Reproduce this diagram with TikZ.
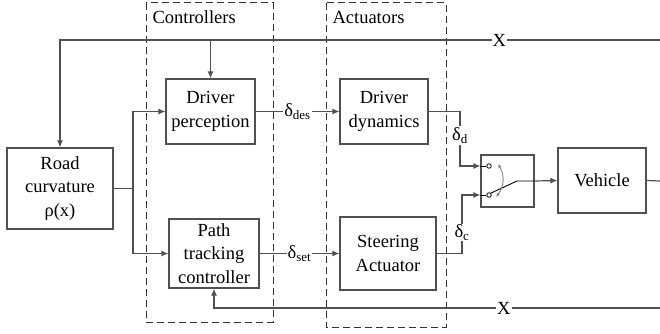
\documentclass[tikz,border=0pt]{standalone}
\usepackage{fontspec}
\setmainfont{Liberation Serif}
\usetikzlibrary{arrows.meta,calc,positioning}
\definecolor{wire}{HTML}{505050}
\tikzset{
        block/.style = {draw=wire, rectangle, line width=1.2pt,
            align=center, inner sep=0pt},
        wire/.style = {draw=wire, line width=1.2pt},
        arrow/.style = {draw=wire, line width=1.2pt, -{Latex[length=7pt,width=6pt]}},
        group/.style = {draw=black!80, line width=1pt, dash pattern=on 7pt off 4pt},
        sig/.style = {fill=white, inner sep=1pt},
        contact/.style = {draw=black, fill=white, circle, line width=0.8pt,
            inner sep=0pt, minimum size=4.5pt},
    }

\begin{document}
\begin{tikzpicture}[x=1pt, y=-1pt, font=\fontsize{18.5}{23.5}\selectfont]
                \useasboundingbox (0,0) rectangle (660,334);

                % groups
                \draw[group] (146,3) rectangle (273,322);
                \draw[group] (326,3) rectangle (446,327);
                \node[anchor=west] (ctrllbl) at (149,17) {Controllers};
                \node[anchor=west] (actlbl) at (329,17) {Actuators};

                % blocks
                \node[block, minimum width=106pt, minimum height=81pt] (road) at (60,188.5) {Road\\curvature\\ρ(x)};
                \node[block, minimum width=89pt, minimum height=65pt] (perc) at (210.5,111.5) {Driver\\perception};
                \node[block, minimum width=90pt, minimum height=69pt] (path) at (214,253.5) {Path\\tracking\\controller};
                \node[block, minimum width=88pt, minimum height=65pt] (dyn) at (384,111.5) {Driver\\dynamics};
                \node[block, minimum width=96pt, minimum height=73pt] (steer) at (388,253.5) {Steering\\Actuator};
                \node[block, minimum width=53pt, minimum height=52pt] (sw) at (507.5,181) {};
                \node[block, minimum width=88pt, minimum height=65pt] (veh) at (602,180.5) {Vehicle};

                % feedback lines
                \coordinate (topR) at (660,40);
                \coordinate (topL) at (60,40);
                \draw[arrow] (topR) -- node[sig, pos=0.268] (xtop) {X} (topL) -- (road.north);
                \draw[arrow] (perc.north |- topL) -- (perc.north);
                \coordinate (botR) at (660,308);
                \draw[arrow] (botR) -- node[sig, pos=0.35] (xbot) {X} (botR -| path.south) -- (path.south);

                % road to controllers
                \coordinate (split) at (133,188.5);
                \draw[wire] (road.east) -- (split);
                \draw[arrow] (split) |- (perc.west);
                \draw[arrow] (split) |- (path.west);

                % controllers to actuators
                \draw[arrow] (perc.east) -- node[sig] (ddes) {δ\textsubscript{des}} (dyn.west);
                \draw[arrow] (path.east) -- node[sig] (dset) {δ\textsubscript{set}} (steer.west);

                % actuators to switch
                \coordinate (inA) at ($(sw.west)+(0,-15)$);
                \coordinate (inB) at ($(sw.west)+(0,14)$);
                \coordinate (dk) at (460,166);
                \coordinate (ck) at (462,195);
                \draw[arrow] (dyn.east) -| node[sig, pos=0.72] (dd) {δ\textsubscript{d}} (dk) -- (inA);
                \draw[arrow] (steer.east) -| node[sig, pos=0.68] (dc) {δ\textsubscript{c}} (ck) -- (inB);

                % switch
                \node[contact] (c1) at (489,166) {};
                \node[contact] (c2) at (489,195) {};
                \coordinate (pivot) at (517,181);
                \draw[black, line width=0.9pt] (inA) -- (c1.west);
                \draw[black, line width=0.9pt] (inB) -- (c2.west);
                \draw[black, line width=0.9pt] (c2.north east) -- (pivot) -- (sw.east);
                \draw[gray, line width=0.9pt, {Latex[length=4pt,width=3.5pt]}-{Latex[length=4pt,width=3.5pt]}] (498,164) to[bend left=35] (496,197);

                % vehicle
                \draw[arrow] (sw.east) -- (veh.west);
                \draw[wire] (veh.east) -- (660,181);
\end{tikzpicture}
\end{document}
